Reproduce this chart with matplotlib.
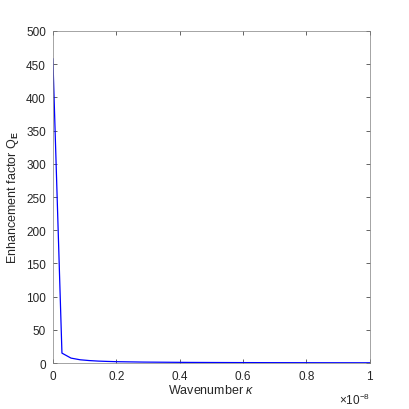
import numpy as np
import matplotlib
matplotlib.use("Agg")
import matplotlib.pyplot as plt

# wavenumber (x 1e-8) and enhancement factor
kappa = np.linspace(0, 1e-8, 36)
q_e = [458, 15, 7.5, 5.0, 3.8, 3.0, 2.5, 2.1, 1.9, 1.7, 1.5, 1.4,
       1.3, 1.2, 1.1, 1.0, 0.95, 0.9, 0.85, 0.8, 0.76, 0.72, 0.7, 0.67,
       0.64, 0.62, 0.6, 0.58, 0.56, 0.54, 0.52, 0.5, 0.49, 0.48, 0.46, 0.45]
x_ticks = [0, 0.2e-8, 0.4e-8, 0.6e-8, 0.8e-8, 1e-8]
x_ticklabels = ['0', '0.2', '0.4', '0.6', '0.8', '1']

plt.rcParams['font.family'] = ['Liberation Sans', 'DejaVu Sans']
plt.rcParams['mathtext.fontset'] = 'custom'
plt.rcParams['mathtext.rm'] = 'Liberation Sans'
plt.rcParams['mathtext.it'] = 'Liberation Sans:italic'
plt.rcParams['mathtext.bf'] = 'Liberation Sans:bold'

grey = '#262626'
fig = plt.figure(figsize=(4.1, 4.1), dpi=100)
ax = fig.add_axes([0.129, 0.112, 0.773, 0.810])
ax.plot(kappa, q_e, color='blue', lw=0.9)

ax.set_xlim(0, 1e-8)
ax.set_ylim(0, 500)
ax.set_xticks(x_ticks)
ax.set_xticklabels(x_ticklabels)
ax.set_yticks(np.arange(0, 501, 50))
ax.tick_params(direction='in', top=True, right=True, length=3, width=0.5,
               labelsize=8.5, colors=grey, pad=5)
for s in ax.spines.values():
    s.set_linewidth(0.5)
    s.set_color('#808080')

# exponent label like the one MATLAB puts under the x axis
ax.text(1.0, -0.085, r'$\times$10$^{-8}$', transform=ax.transAxes,
        ha='right', va='top', fontsize=8.5, color=grey)

ax.set_xlabel(r'Wavenumber $\kappa$', fontsize=9, color=grey, labelpad=1)
ax.set_ylabel(r'Enhancement factor Q$_{\mathbf{E}}$', fontsize=9, color=grey, labelpad=4)

fig.savefig('out.png', dpi=100)
